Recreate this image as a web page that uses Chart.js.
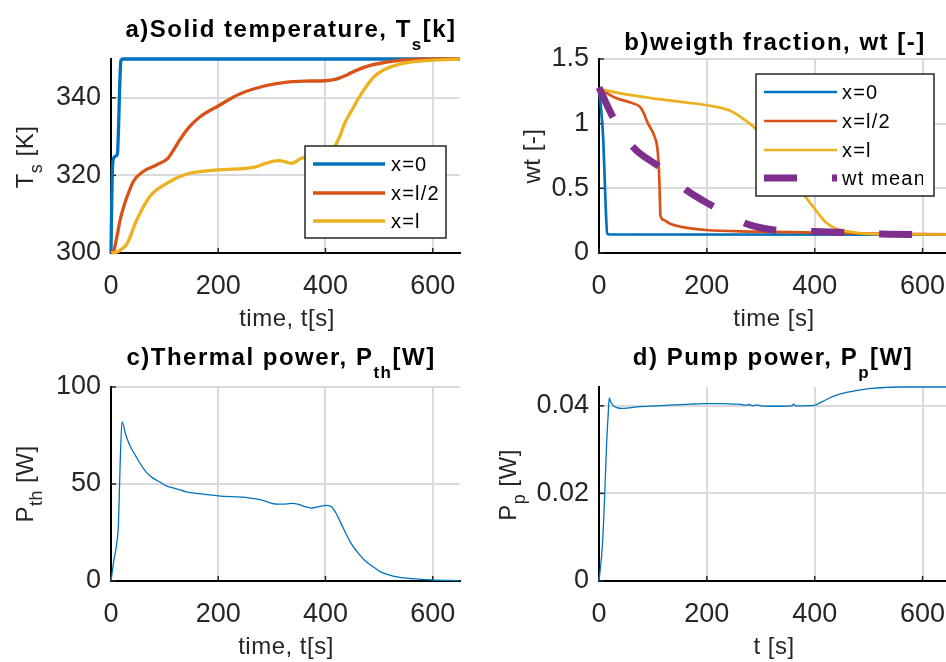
<!DOCTYPE html>
<html lang="en">
<head>
<meta charset="UTF-8">
<title>Solid temperature, weight fraction, thermal and pump power</title>
<script src="https://cdn.jsdelivr.net/npm/chart.js"></script>
<style>
  html, body { margin: 0; padding: 0; background: #fff; overflow: hidden; }
  body { width: 946px; height: 662px; position: relative; }
  canvas { position: absolute; }
</style>
</head>
<body>
<canvas id="chartA" width="473" height="331" style="left:0;top:0"></canvas>
<canvas id="chartB" width="490" height="331" style="left:473px;top:0"></canvas>
<canvas id="chartC" width="473" height="331" style="left:0;top:331px"></canvas>
<canvas id="chartD" width="490" height="331" style="left:473px;top:331px"></canvas>
<script>
// a) solid temperature [K]
const tsTime0 = [0, 1, 2.5, 5, 9, 12, 14, 16, 18.5, 22, 650];
const tsX0 = [300, 310, 321, 324.5, 325, 325.5, 332, 342, 349.6, 350, 350];
const tsTimeHalf = [0, 5, 10, 17, 25, 30, 42, 60, 85, 106, 115, 128, 145, 165, 200, 240, 288, 325, 360, 400, 420, 440, 460, 485, 510, 535, 570, 600, 650];
const tsHalf = [300, 300.5, 303.5, 308.5, 312.5, 314.5, 318.5, 321, 322.7, 324.4, 326.2, 329.1, 332.3, 335, 337.9, 341, 343.1, 344, 344.3, 344.4, 344.8, 345.9, 347.2, 348.4, 349.1, 349.6, 349.9, 350, 350];
const tsTimeL = [0, 10, 20, 30, 48, 72, 103, 140, 200, 270, 288, 312, 325, 337, 355, 375, 395, 417, 427, 436, 448, 460, 475, 491, 510, 534, 565, 600, 650];
const tsL = [300, 300.2, 301, 302.4, 308.5, 314.5, 317.9, 320.3, 321.4, 322.2, 323.1, 323.8, 323.5, 323.1, 324.4, 325.1, 325.8, 327.4, 330.2, 333.5, 336.5, 339.5, 342.7, 345.5, 347.3, 348.5, 349.3, 349.7, 350];

// b) weight fraction [-]
const wtTime0 = [0, 3, 8, 12.4, 15.3, 20, 650];
const wtX0 = [1.27, 1.15, 0.87, 0.356, 0.15, 0.143, 0.142];
const wtTimeHalf = [0, 5, 30, 57, 76, 82, 91, 103, 109, 112, 114, 120, 131, 155, 198, 285, 400, 500, 650];
const wtHalf = [1.27, 1.26, 1.2, 1.165, 1.13, 1.09, 1.0, 0.9, 0.78, 0.55, 0.29, 0.255, 0.228, 0.2, 0.178, 0.166, 0.158, 0.15, 0.145];
const wtTimeL = [0, 40, 100, 160, 210, 240, 265, 290, 320, 350, 383, 402, 420, 439, 476, 531, 650];
const wtL = [1.27, 1.234, 1.196, 1.165, 1.136, 1.105, 1.045, 0.963, 0.8, 0.63, 0.434, 0.331, 0.24, 0.189, 0.158, 0.145, 0.143];
const wtTimeMean = [0, 26, 63, 112, 162, 214, 272, 300, 331, 400, 460, 525, 650];
const wtMean = [1.28, 1.05, 0.82, 0.665, 0.486, 0.356, 0.228, 0.195, 0.175, 0.166, 0.158, 0.146, 0.142];

// c) thermal power [W]
const pthTime = [0, 5, 11, 14, 17, 20.5, 28, 36, 45, 54, 66, 79, 91, 103, 122, 140, 165, 200, 257, 282, 306, 320, 337, 350, 362, 374, 388, 400, 411, 420, 429, 438, 448, 460, 473, 488, 503, 518, 534, 560, 596, 650];
const pth = [0, 10, 20, 30, 60, 82, 75, 69.3, 65, 60.7, 56, 52.9, 51, 49, 47.5, 46, 45, 43.9, 42.9, 41.7, 39.7, 39.6, 40, 39.5, 38.3, 37.6, 38.3, 39, 38.3, 34.8, 29.7, 24.5, 19.3, 14.8, 10.7, 7.5, 4.7, 3.2, 2.1, 1.2, 0.6, 0.2];

// d) pump power [W]
const ppTime = [0, 5, 8, 11, 14, 17, 19, 22, 26, 33, 42, 60, 76, 100, 137, 170, 199, 230, 248, 265, 272, 278, 285, 292, 300, 316, 340, 358, 361, 364, 380, 399, 415, 433, 457, 482, 505, 531, 560, 600, 650];
const pp = [0, 0.006, 0.012, 0.021, 0.031, 0.038, 0.0418, 0.0408, 0.0401, 0.0396, 0.0394, 0.0396, 0.0398, 0.04, 0.0402, 0.0404, 0.0405, 0.0405, 0.0404, 0.0403, 0.0401, 0.0403, 0.04, 0.0402, 0.04, 0.0399, 0.0399, 0.04, 0.0404, 0.04, 0.04, 0.0401, 0.041, 0.0421, 0.043, 0.0436, 0.044, 0.0442, 0.0443, 0.0443, 0.0443];

const xTicksStep = 200;
const timeMax = 650;

const BLUE = '#0072BD', RED = '#D95319', YELLOW = '#EDB120', PURPLE = '#7E2F8E';
const FONT = '"Liberation Sans", Arial, Helvetica, sans-serif';
const INK = '#262626';

const pts = (xs, ys) => xs.map((x, i) => ({ x: x, y: ys[i] }));

// draw text made of normal and subscript pieces, centred on x
function drawRich(ctx, parts, x, y, o) {
  ctx.letterSpacing = (o.spacing || 0) + 'px';
  let w = 0;
  parts.forEach(p => { ctx.font = p[1] ? o.subFont : o.font; w += ctx.measureText(p[0]).width; });
  let cx = x - w / 2;
  parts.forEach(p => {
    ctx.font = p[1] ? o.subFont : o.font;
    ctx.fillText(p[0], cx, p[1] ? y + o.subShift : y);
    cx += ctx.measureText(p[0]).width;
  });
  ctx.letterSpacing = '0px';
}

const panelText = {
  id: 'panelText',
  beforeDatasetsDraw(chart) {
    // MATLAB style inward tick marks
    const ctx = chart.ctx, a = chart.chartArea;
    ctx.save();
    ctx.strokeStyle = INK;
    ctx.lineWidth = 1.5;
    chart.scales.y.ticks.forEach(t => {
      const py = chart.scales.y.getPixelForValue(t.value);
      ctx.beginPath(); ctx.moveTo(a.left, py); ctx.lineTo(a.left + 5, py); ctx.stroke();
    });
    chart.scales.x.ticks.forEach(t => {
      const px = chart.scales.x.getPixelForValue(t.value);
      ctx.beginPath(); ctx.moveTo(px, a.bottom); ctx.lineTo(px, a.bottom - 5); ctx.stroke();
    });
    ctx.restore();
  },
  afterDraw(chart, args, opts) {
    const ctx = chart.ctx;
    ctx.save();
    ctx.textBaseline = 'alphabetic';
    ctx.textAlign = 'left';
    ctx.fillStyle = '#000';
    const t = opts.title;
    drawRich(ctx, t.parts, t.x, t.y, { font: 'bold 24px ' + FONT, subFont: 'bold 17px ' + FONT, subShift: 13, spacing: 1.5 });
    ctx.fillStyle = INK;
    const xl = opts.xLabel;
    drawRich(ctx, xl.parts, xl.x, xl.y, { font: '24px ' + FONT, subFont: '18px ' + FONT, subShift: 8, spacing: 0.5 });
    const yl = opts.yLabel;
    ctx.translate(yl.x, yl.y);
    ctx.rotate(-Math.PI / 2);
    drawRich(ctx, yl.parts, 0, 0, { font: '24px ' + FONT, subFont: '18px ' + FONT, subShift: 9, spacing: 0.5 });
    ctx.restore();
  }
};

// legend box placed inside the axes, like MATLAB's
const boxLegend = {
  id: 'boxLegend',
  afterDraw(chart, args, o) {
    if (!o.box) return;
    const ctx = chart.ctx, b = o.box;
    ctx.save();
    ctx.fillStyle = '#fff';
    ctx.fillRect(b.x, b.y, b.w, b.h);
    ctx.strokeStyle = INK;
    ctx.lineWidth = 1.5;
    ctx.strokeRect(b.x, b.y, b.w, b.h);
    ctx.beginPath();
    ctx.rect(b.x, b.y, (o.clipRight || b.x + b.w) - b.x, b.h);
    ctx.clip();
    chart.data.datasets.forEach((ds, i) => {
      const y = o.rows[i];
      ctx.strokeStyle = ds.borderColor;
      ctx.lineWidth = ds.borderWidth;
      ctx.setLineDash(ds.borderDash || []);
      ctx.beginPath(); ctx.moveTo(o.x0, y); ctx.lineTo(o.x1, y); ctx.stroke();
      ctx.setLineDash([]);
      ctx.fillStyle = '#000';
      ctx.font = '20px ' + FONT;
      ctx.letterSpacing = '1.2px';
      ctx.textBaseline = 'middle';
      ctx.fillText(ds.label, o.textX, y + 1);
      ctx.letterSpacing = '0px';
    });
    ctx.restore();
  }
};

function tickLabel(v) {
  return String(+v.toFixed(4));
}

function makeChart(id, datasets, o) {
  const cv = document.getElementById(id);
  const W = cv.width, H = cv.height, a = o.area;
  const gridOpts = { color: '#dadada', lineWidth: 2, drawTicks: false };
  const tickFont = { family: FONT, size: 27 };
  return new Chart(cv, {
    type: 'line',
    data: { datasets: datasets },
    options: {
      responsive: false,
      animation: false,
      devicePixelRatio: 1,
      events: [],
      layout: { padding: { left: 0, top: a.top, right: W - a.right, bottom: H - a.bottom - 60 } },
      elements: { point: { radius: 0 }, line: { cubicInterpolationMode: 'monotone' } },
      plugins: {
        legend: { display: false },
        tooltip: { enabled: false },
        panelText: o.text,
        boxLegend: o.legend || {}
      },
      scales: {
        x: {
          type: 'linear', min: 0, max: timeMax,
          afterFit: s => { s.height = 60; },
          ticks: { stepSize: xTicksStep, includeBounds: false, font: tickFont, color: INK, padding: 17, maxRotation: 0, callback: tickLabel },
          grid: gridOpts,
          border: { display: true, color: '#000', width: 2 }
        },
        y: {
          min: o.yMin, max: o.yMax,
          afterFit: s => { s.width = a.left; },
          ticks: { stepSize: o.yStep, includeBounds: false, font: tickFont, color: INK, padding: 10, callback: tickLabel },
          grid: gridOpts,
          border: { display: true, color: '#000', width: 2 }
        }
      }
    },
    plugins: [panelText, boxLegend]
  });
}

const solid = (label, xs, ys, color, width, order) => ({
  label: label, data: pts(xs, ys), borderColor: color, backgroundColor: color,
  borderWidth: width, clip: 6, order: order
});

makeChart('chartA', [
  solid('x=0', tsTime0, tsX0, BLUE, 3.3, 3),
  solid('x=l/2', tsTimeHalf, tsHalf, RED, 3.3, 2),
  solid('x=l', tsTimeL, tsL, YELLOW, 3.3, 1)
], {
  area: { left: 111, right: 463, top: 59, bottom: 253 },
  yMin: 300, yMax: 350, yStep: 20,
  text: {
    title: { parts: [['a)Solid temperature, T', 0], ['s', 1], ['[k]', 0]], x: 291, y: 37 },
    xLabel: { parts: [['time, t[s]', 0]], x: 287, y: 326 },
    yLabel: { parts: [['T', 0], ['s', 1], [' [K]', 0]], x: 33, y: 157 }
  },
  legend: { box: { x: 305, y: 146, w: 141, h: 92 }, rows: [164, 193, 221], x0: 313, x1: 385, textX: 391 }
});

const meanSet = solid('wt mean', wtTimeMean, wtMean, PURPLE, 7, 0);
meanSet.borderDash = [33, 35];

makeChart('chartB', [
  solid('x=0', wtTime0, wtX0, BLUE, 2.7, 3),
  solid('x=l/2', wtTimeHalf, wtHalf, RED, 2.7, 2),
  solid('x=l', wtTimeL, wtL, YELLOW, 2.7, 1),
  meanSet
], {
  area: { left: 126, right: 478, top: 59, bottom: 253 },
  yMin: 0, yMax: 1.5, yStep: 0.5,
  text: {
    title: { parts: [['b)weigth fraction, wt [-]', 0]], x: 302, y: 50 },
    xLabel: { parts: [['time [s]', 0]], x: 301, y: 326 },
    yLabel: { parts: [['wt [-]', 0]], x: 67, y: 156 }
  },
  legend: { box: { x: 283, y: 74, w: 178, h: 122 }, rows: [92, 121, 150, 178], x0: 291, x1: 364, textX: 369, clipRight: 450 }
});

makeChart('chartC', [
  solid('Pth', pthTime, pth, BLUE, 1.3, 0)
], {
  area: { left: 111, right: 463, top: 56, bottom: 250 },
  yMin: 0, yMax: 100, yStep: 50,
  text: {
    title: { parts: [['c)Thermal power, P', 0], ['th', 1], ['[W]', 0]], x: 281, y: 34 },
    xLabel: { parts: [['time, t[s]', 0]], x: 286, y: 323 },
    yLabel: { parts: [['P', 0], ['th', 1], [' [W]', 0]], x: 33, y: 153 }
  }
});

makeChart('chartD', [
  solid('Pp', ppTime, pp, BLUE, 1.3, 0)
], {
  area: { left: 126, right: 478, top: 56, bottom: 250 },
  yMin: 0, yMax: 0.0443, yStep: 0.02,
  text: {
    title: { parts: [['d) Pump power, P', 0], ['p', 1], ['[W]', 0]], x: 300, y: 34 },
    xLabel: { parts: [['t [s]', 0]], x: 301, y: 323 },
    yLabel: { parts: [['P', 0], ['p', 1], [' [W]', 0]], x: 43, y: 154 }
  }
});
</script>
</body>
</html>
